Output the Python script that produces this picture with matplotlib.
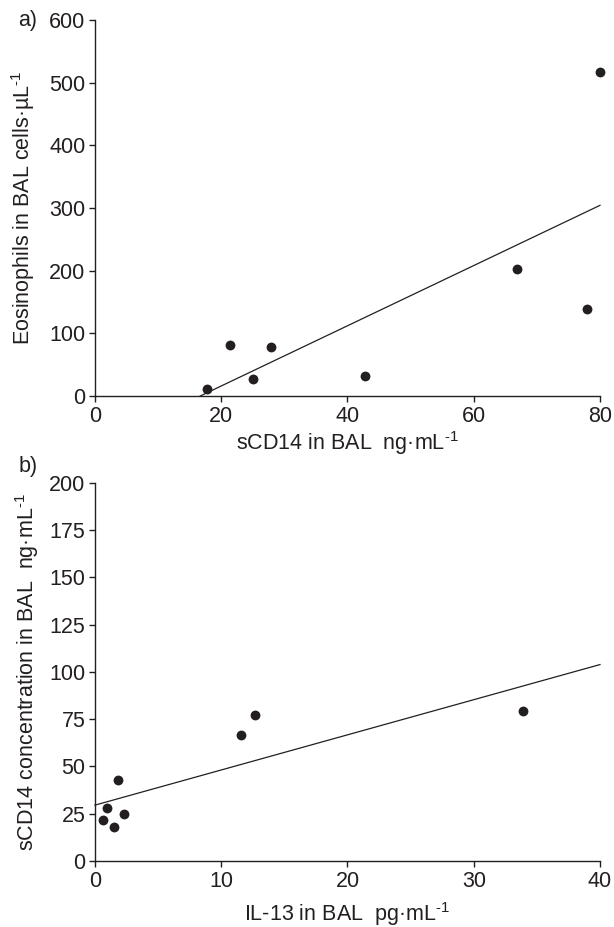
import numpy as np
import matplotlib
matplotlib.use("Agg")
import matplotlib.pyplot as plt
from matplotlib import font_manager

names = {f.name for f in font_manager.fontManager.ttflist}
fam = "Liberation Sans Narrow" if "Liberation Sans Narrow" in names else "Liberation Sans"
plt.rcParams['font.family'] = [fam, 'DejaVu Sans']
plt.rcParams['mathtext.fontset'] = 'custom'
plt.rcParams['mathtext.rm'] = fam
plt.rcParams['mathtext.it'] = fam
plt.rcParams['mathtext.default'] = 'rm'

# Panel a data
scd14_a = [17.8, 21.4, 25.0, 27.9, 42.8, 66.9, 77.9, 80.0]
eos_a = [10.6, 81.5, 26.6, 78.8, 32.0, 202.0, 139.0, 517.0]
xticks_a = [0, 20, 40, 60, 80]
yticks_a = [0, 100, 200, 300, 400, 500, 600]

# Panel b data
il13_b = [0.65, 0.96, 1.49, 1.86, 2.3, 11.6, 12.7, 33.9]
scd14_b = [21.6, 27.9, 18.0, 42.8, 24.7, 66.6, 77.4, 79.2]
xticks_b = [0, 10, 20, 30, 40]
yticks_b = [0, 25, 50, 75, 100, 125, 150, 175, 200]

TXT = '#231f20'
TS = 15.5   # tick label size
LS = 15.5   # axis label size
fig = plt.figure(figsize=(6.14, 9.27), dpi=100)
ax1 = fig.add_axes([0.1547, 0.5728, 0.8225, 0.4056])
ax2 = fig.add_axes([0.1547, 0.0712, 0.8225, 0.4078])

def style(ax):
    for s in ['top', 'right']:
        ax.spines[s].set_visible(False)
    for s in ['left', 'bottom']:
        ax.spines[s].set_linewidth(1.0)
        ax.spines[s].set_color(TXT)
    ax.tick_params(direction='out', length=4, width=1.0, color=TXT,
                   labelsize=TS, labelcolor=TXT, pad=3)

def fitline(ax, x, y, xmax):
    k, b = np.polyfit(x, y, 1)
    x0 = max(0, -b / k) if b < 0 else 0
    xs = np.array([x0, xmax])
    ax.plot(xs, k * xs + b, color=TXT, lw=0.9, clip_on=False)

sup = '$^{‐1}$'

# panel a
ax1.scatter(scd14_a, eos_a, s=50, color=TXT, zorder=3, clip_on=False, linewidths=0)
fitline(ax1, scd14_a, eos_a, 80)
ax1.set_xlim(0, 80)
ax1.set_ylim(0, 600)
ax1.set_xticks(xticks_a)
ax1.set_yticks(yticks_a)
style(ax1)
ax1.set_xlabel('sCD14 in BAL  ng·mL' + sup, fontsize=LS, color=TXT, labelpad=2)
ax1.set_ylabel('Eosinophils in BAL cells·µL' + sup, fontsize=LS, color=TXT, labelpad=9)
fig.text(0.03, 0.978, 'a)', fontsize=TS, color=TXT, va='center', ha='left')

# panel b
ax2.scatter(il13_b, scd14_b, s=50, color=TXT, zorder=3, clip_on=False, linewidths=0)
fitline(ax2, il13_b, scd14_b, 40)
ax2.set_xlim(0, 40)
ax2.set_ylim(0, 200)
ax2.set_xticks(xticks_b)
ax2.set_yticks(yticks_b)
style(ax2)
ax2.set_xlabel('IL-13 in BAL  pg·mL' + sup, fontsize=LS, color=TXT, labelpad=6)
ax2.set_ylabel('sCD14 concentration in BAL  ng·mL' + sup, fontsize=LS, color=TXT, labelpad=6)
fig.text(0.03, 0.497, 'b)', fontsize=TS, color=TXT, va='center', ha='left')

fig.savefig('out.png', dpi=100)
